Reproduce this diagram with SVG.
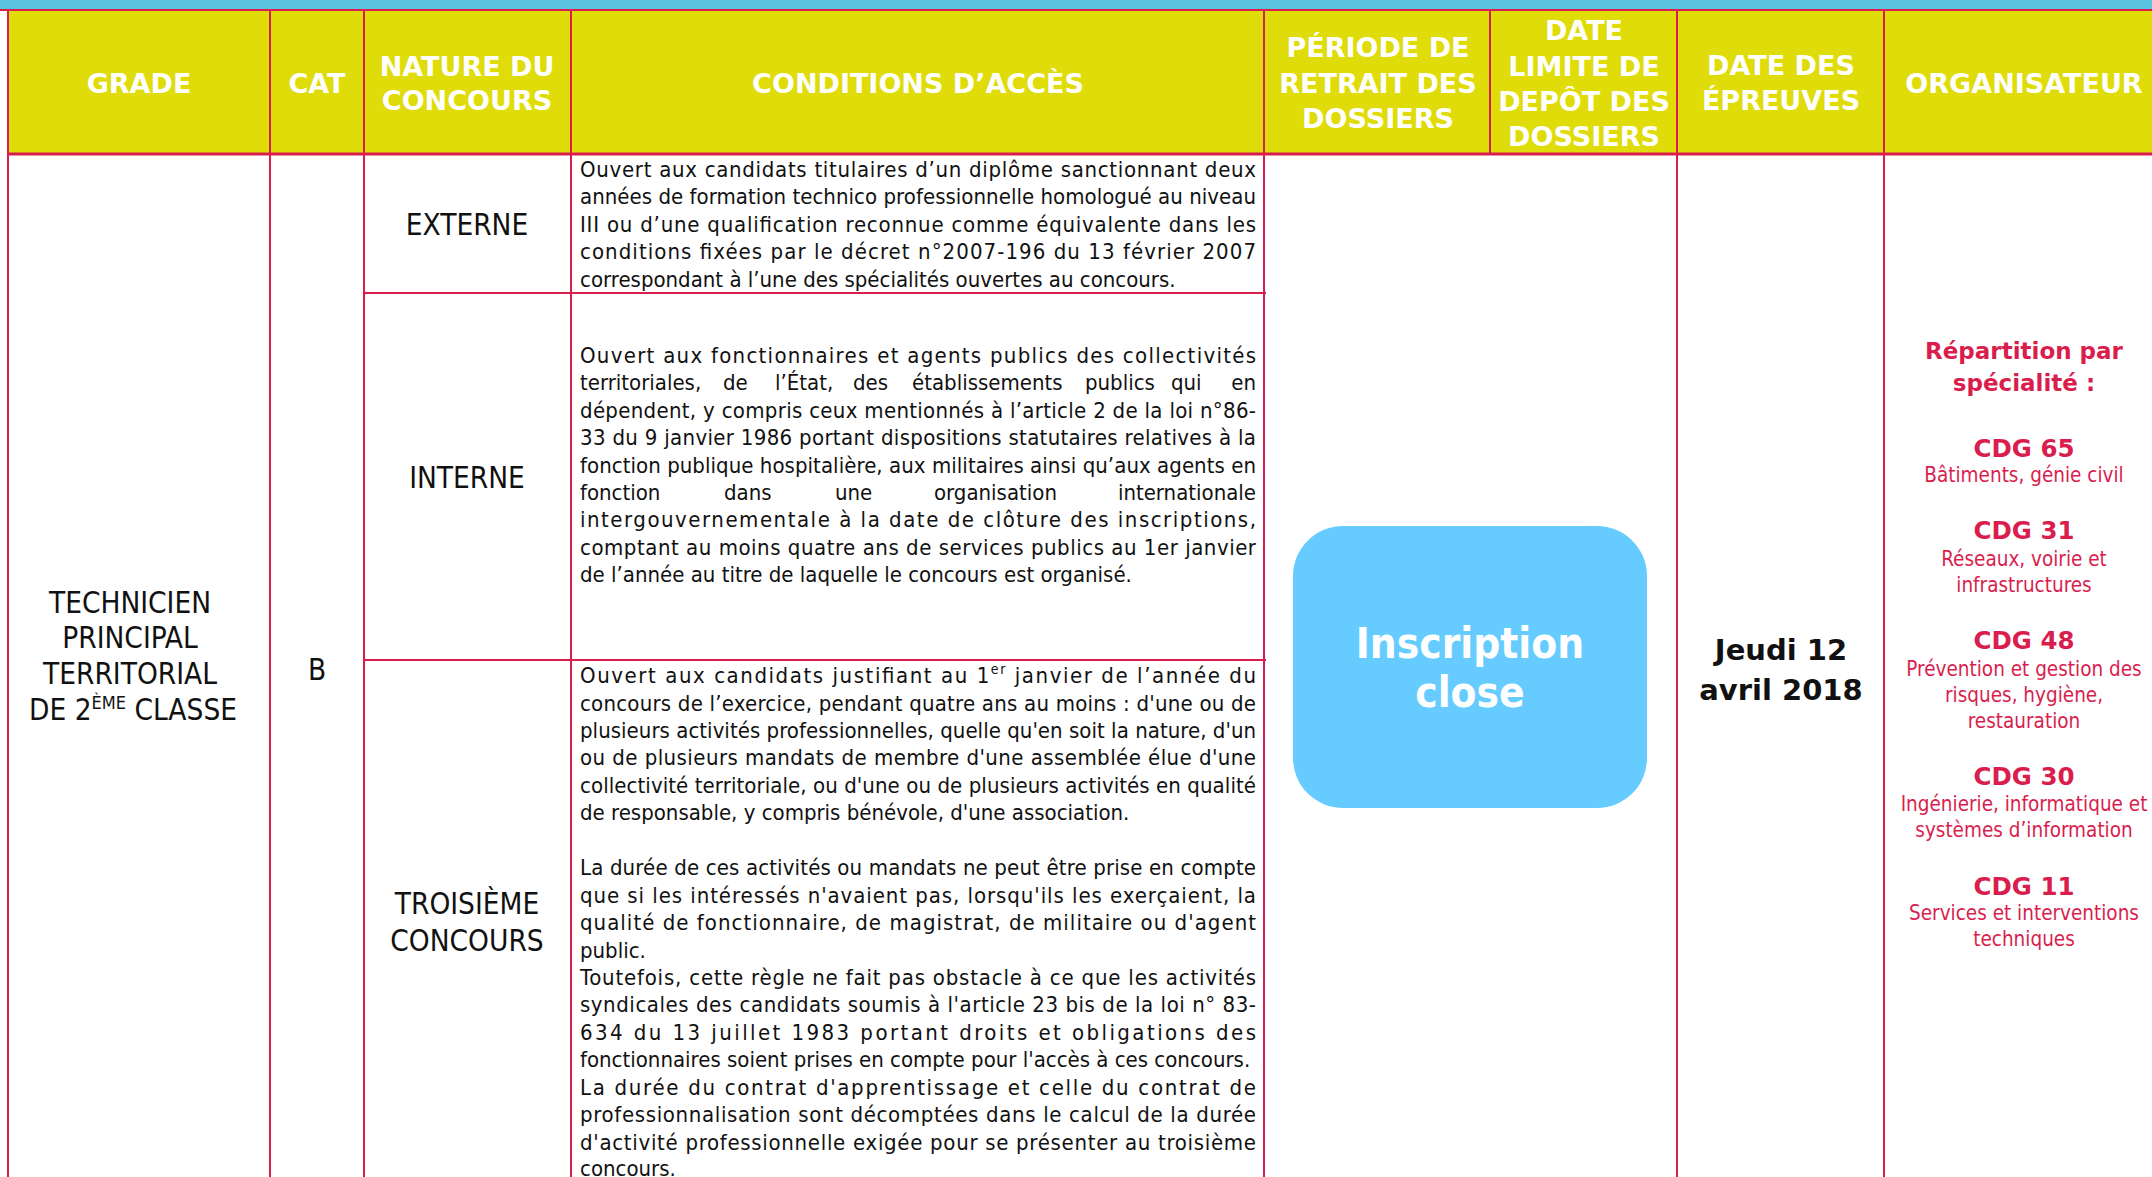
<svg xmlns="http://www.w3.org/2000/svg" width="2152" height="1177" viewBox="0 0 2152 1177">
<style>
.ln{stroke:#D91E4E;stroke-width:2;fill:none}
.hd{font-family:"DejaVu Sans",Verdana,sans-serif;font-weight:bold;font-size:27px;fill:#fff;text-anchor:middle}
.big{font-family:"DejaVu Sans Condensed","DejaVu Sans",sans-serif;font-stretch:condensed;font-size:29.5px;fill:#111;text-anchor:middle}
.tx{font-family:"DejaVu Sans Condensed","DejaVu Sans",sans-serif;font-stretch:condensed;font-size:22px;fill:#111}
.ob{font-family:"DejaVu Sans",Verdana,sans-serif;font-weight:bold;fill:#D91E4E;text-anchor:middle}
.or{font-family:"DejaVu Sans Condensed","DejaVu Sans",sans-serif;font-stretch:condensed;font-size:20.5px;fill:#D91E4E;text-anchor:middle}
.dt{font-family:"DejaVu Sans",Verdana,sans-serif;font-weight:bold;font-size:29px;fill:#111;text-anchor:middle}
.ic{font-family:"DejaVu Sans Condensed","DejaVu Sans",sans-serif;font-stretch:condensed;font-weight:bold;font-size:42px;fill:#fff;text-anchor:middle}
</style>
<rect x="0" y="0" width="2152" height="1177" fill="#fff"/>
<rect x="0" y="0" width="2152" height="10" fill="#5BC3DF"/>
<rect x="8" y="10" width="2144" height="144" fill="#DFDC0A"/>

<g id="connectors">
<line class="ln" x1="0" y1="10" x2="2152" y2="10"/>
<line class="ln" x1="8" y1="154" x2="2152" y2="154" style="stroke-width:3"/>
<line class="ln" x1="8" y1="10" x2="8" y2="1177"/>
<line class="ln" x1="270" y1="10" x2="270" y2="1177"/>
<line class="ln" x1="364" y1="10" x2="364" y2="1177"/>
<line class="ln" x1="571" y1="10" x2="571" y2="1177"/>
<line class="ln" x1="1264" y1="10" x2="1264" y2="1177"/>
<line class="ln" x1="1490" y1="10" x2="1490" y2="154"/>
<line class="ln" x1="1677" y1="10" x2="1677" y2="1177"/>
<line class="ln" x1="1884" y1="10" x2="1884" y2="1177"/>
<line class="ln" x1="364" y1="293" x2="1266" y2="293"/>
<line class="ln" x1="364" y1="660" x2="1266" y2="660"/>
</g>

<g id="header">
<text class="hd" x="139" y="93">GRADE</text>
<text class="hd" x="317" y="93">CAT</text>
<text class="hd" x="467" y="76">NATURE DU</text>
<text class="hd" x="467" y="110">CONCOURS</text>
<text class="hd" x="918" y="93">CONDITIONS D’ACCÈS</text>
<text class="hd" x="1378" y="57">PÉRIODE DE</text>
<text class="hd" x="1378" y="93">RETRAIT DES</text>
<text class="hd" x="1378" y="128">DOSSIERS</text>
<text class="hd" x="1584" y="40">DATE</text>
<text class="hd" x="1584" y="76">LIMITE DE</text>
<text class="hd" x="1584" y="111">DEPÔT DES</text>
<text class="hd" x="1584" y="146">DOSSIERS</text>
<text class="hd" x="1781" y="75">DATE DES</text>
<text class="hd" x="1781" y="110">ÉPREUVES</text>
<text class="hd" x="2024" y="93">ORGANISATEUR</text>
</g>

<g id="grade">
<text class="big" x="130" y="613">TECHNICIEN</text>
<text class="big" x="130" y="648">PRINCIPAL</text>
<text class="big" x="130" y="684">TERRITORIAL</text>
<text class="big" x="133" y="720">DE 2<tspan dy="-11" font-size="18">ÈME</tspan><tspan dy="11"> CLASSE</tspan></text>
</g>

<g id="cat">
<text class="big" x="317" y="680">B</text>
</g>

<g id="nature">
<text class="big" x="467" y="235">EXTERNE</text>
<text class="big" x="467" y="488">INTERNE</text>
<text class="big" x="467" y="914">TROISIÈME</text>
<text class="big" x="467" y="951">CONCOURS</text>
</g>

<g id="conditions-externe">
<text class="tx" x="580" y="177" textLength="676" lengthAdjust="spacing">Ouvert aux candidats titulaires d’un diplôme sanctionnant deux</text>
<text class="tx" x="580" y="204.4" textLength="676" lengthAdjust="spacing">années de formation technico professionnelle homologué au niveau</text>
<text class="tx" x="580" y="231.8" textLength="676" lengthAdjust="spacing">III ou d’une qualification reconnue comme équivalente dans les</text>
<text class="tx" x="580" y="259.2" textLength="676" lengthAdjust="spacing">conditions fixées par le décret n°2007-196 du 13 février 2007</text>
<text class="tx" x="580" y="286.6">correspondant à l’une des spécialités ouvertes au concours.</text>
</g>

<g id="conditions-interne">
<text class="tx" x="580" y="363" textLength="676" lengthAdjust="spacing">Ouvert aux fonctionnaires et agents publics des collectivités</text>
<text class="tx" y="390.4"><tspan x="580">territoriales,</tspan><tspan x="723">de</tspan><tspan x="775">l’État,</tspan><tspan x="853">des</tspan><tspan x="912">établissements</tspan><tspan x="1085">publics</tspan><tspan x="1171">qui</tspan></text>
<text class="tx" x="1256" y="390.4" text-anchor="end">en</text>
<text class="tx" x="580" y="417.8" textLength="676" lengthAdjust="spacing">dépendent, y compris ceux mentionnés à l’article 2 de la loi n°86-</text>
<text class="tx" x="580" y="445.2" textLength="676" lengthAdjust="spacing">33 du 9 janvier 1986 portant dispositions statutaires relatives à la</text>
<text class="tx" x="580" y="472.6" textLength="676" lengthAdjust="spacing">fonction publique hospitalière, aux militaires ainsi qu’aux agents en</text>
<text class="tx" y="500"><tspan x="580">fonction</tspan><tspan x="724">dans</tspan><tspan x="835">une</tspan><tspan x="934">organisation</tspan></text>
<text class="tx" x="1256" y="500" text-anchor="end">internationale</text>
<text class="tx" x="580" y="527.4" textLength="676" lengthAdjust="spacing">intergouvernementale à la date de clôture des inscriptions,</text>
<text class="tx" x="580" y="554.8" textLength="676" lengthAdjust="spacing">comptant au moins quatre ans de services publics au 1er janvier</text>
<text class="tx" x="580" y="582.2">de l’année au titre de laquelle le concours est organisé.</text>
</g>

<g id="conditions-troisieme">
<text class="tx" x="580" y="683" textLength="676" lengthAdjust="spacing">Ouvert aux candidats justifiant au 1<tspan dy="-9" font-size="14">er</tspan><tspan dy="9"> janvier de l’année du</tspan></text>
<text class="tx" x="580" y="710.5" textLength="676" lengthAdjust="spacing">concours de l’exercice, pendant quatre ans au moins : d'une ou de</text>
<text class="tx" x="580" y="737.9" textLength="676" lengthAdjust="spacing">plusieurs activités professionnelles, quelle qu'en soit la nature, d'un</text>
<text class="tx" x="580" y="765.4" textLength="676" lengthAdjust="spacing">ou de plusieurs mandats de membre d'une assemblée élue d'une</text>
<text class="tx" x="580" y="792.8" textLength="676" lengthAdjust="spacing">collectivité territoriale, ou d'une ou de plusieurs activités en qualité</text>
<text class="tx" x="580" y="820.3">de responsable, y compris bénévole, d'une association.</text>
<text class="tx" x="580" y="875.2" textLength="676" lengthAdjust="spacing">La durée de ces activités ou mandats ne peut être prise en compte</text>
<text class="tx" x="580" y="902.6" textLength="676" lengthAdjust="spacing">que si les intéressés n'avaient pas, lorsqu'ils les exerçaient, la</text>
<text class="tx" x="580" y="930.1" textLength="676" lengthAdjust="spacing">qualité de fonctionnaire, de magistrat, de militaire ou d'agent</text>
<text class="tx" x="580" y="957.5">public.</text>
<text class="tx" x="580" y="985" textLength="676" lengthAdjust="spacing">Toutefois, cette règle ne fait pas obstacle à ce que les activités</text>
<text class="tx" x="580" y="1012.4" textLength="676" lengthAdjust="spacing">syndicales des candidats soumis à l'article 23 bis de la loi n° 83-</text>
<text class="tx" x="580" y="1039.9" textLength="676" lengthAdjust="spacing">634 du 13 juillet 1983 portant droits et obligations des</text>
<text class="tx" x="580" y="1067.3">fonctionnaires soient prises en compte pour l'accès à ces concours.</text>
<text class="tx" x="580" y="1094.8" textLength="676" lengthAdjust="spacing">La durée du contrat d'apprentissage et celle du contrat de</text>
<text class="tx" x="580" y="1122.2" textLength="676" lengthAdjust="spacing">professionnalisation sont décomptées dans le calcul de la durée</text>
<text class="tx" x="580" y="1149.7" textLength="676" lengthAdjust="spacing">d'activité professionnelle exigée pour se présenter au troisième</text>
<text class="tx" x="580" y="1176">concours.</text>
</g>

<g id="inscription">
<rect x="1293" y="526" width="354" height="282" rx="50" ry="50" fill="#66CCFF"/>
<text class="ic" x="1470" y="658">Inscription</text>
<text class="ic" x="1470" y="707">close</text>
</g>

<g id="date">
<text class="dt" x="1781" y="660">Jeudi 12</text>
<text class="dt" x="1781" y="700">avril 2018</text>
</g>

<g id="organisateur">
<text class="ob" x="2024" y="359" font-size="23">Répartition par</text>
<text class="ob" x="2024" y="391" font-size="23">spécialité :</text>
<text class="ob" x="2024" y="457" font-size="24.5">CDG 65</text>
<text class="or" x="2024" y="482">Bâtiments, génie civil</text>
<text class="ob" x="2024" y="539" font-size="24.5">CDG 31</text>
<text class="or" x="2024" y="566">Réseaux, voirie et</text>
<text class="or" x="2024" y="592">infrastructures</text>
<text class="ob" x="2024" y="649" font-size="24.5">CDG 48</text>
<text class="or" x="2024" y="676">Prévention et gestion des</text>
<text class="or" x="2024" y="702">risques, hygiène,</text>
<text class="or" x="2024" y="728">restauration</text>
<text class="ob" x="2024" y="785" font-size="24.5">CDG 30</text>
<text class="or" x="2024" y="811">Ingénierie, informatique et</text>
<text class="or" x="2024" y="837">systèmes d’information</text>
<text class="ob" x="2024" y="895" font-size="24.5">CDG 11</text>
<text class="or" x="2024" y="920">Services et interventions</text>
<text class="or" x="2024" y="946">techniques</text>
</g>
</svg>
